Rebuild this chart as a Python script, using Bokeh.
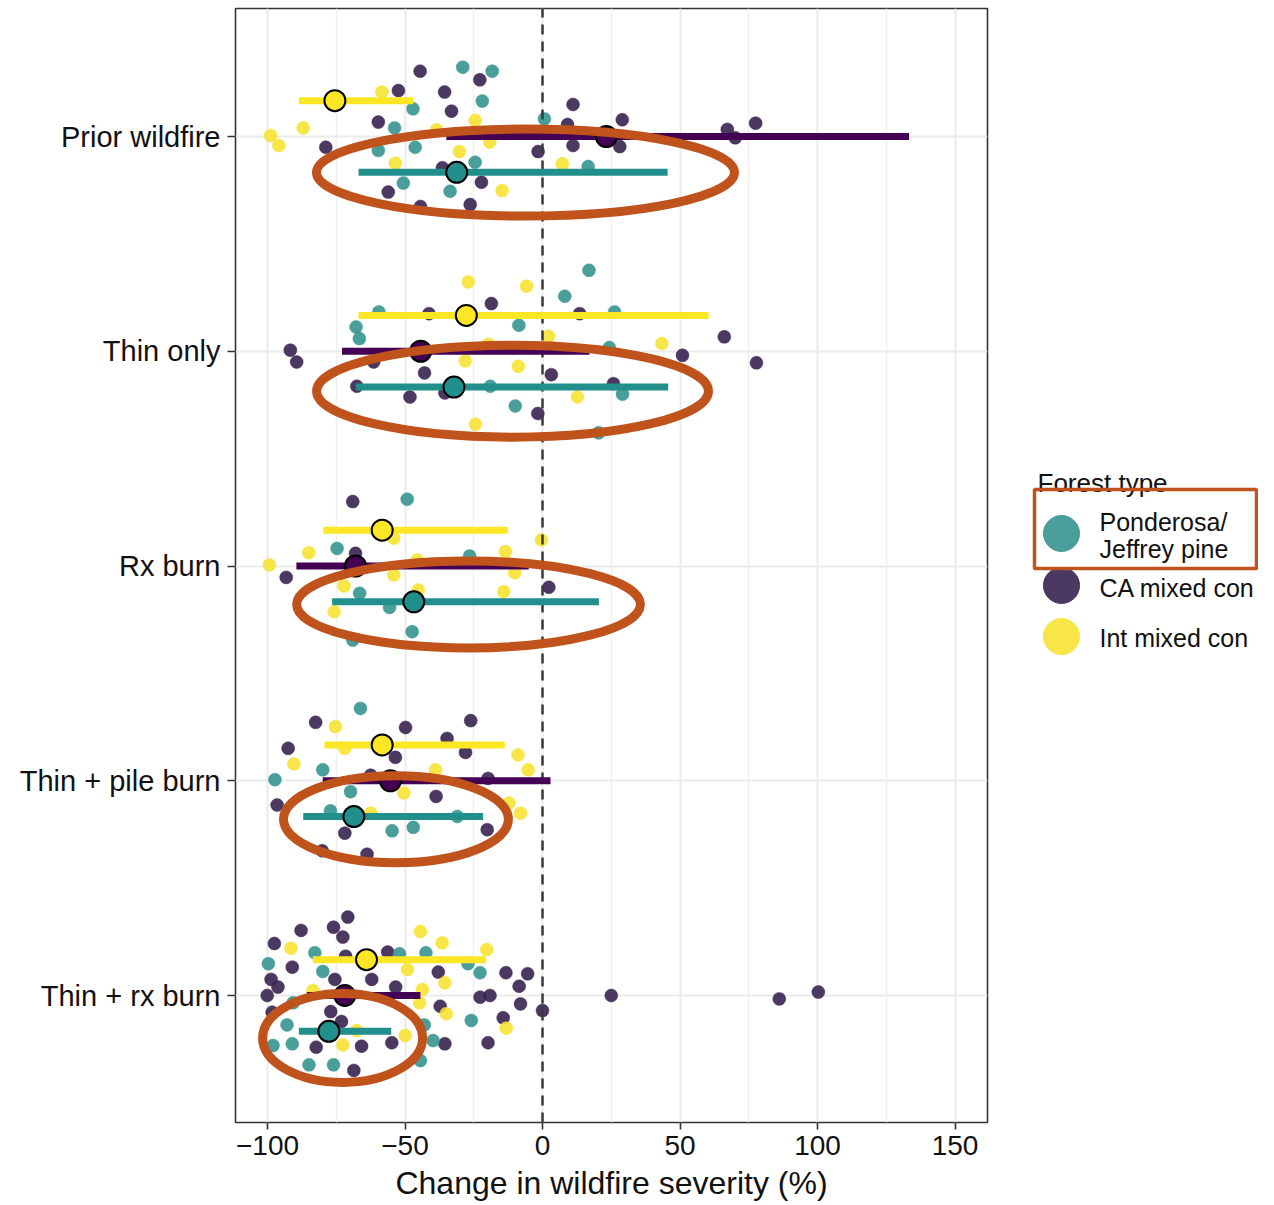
from bokeh.plotting import figure
from bokeh.layouts import row
from bokeh.models import Range1d, FixedTicker
from bokeh.core.properties import value
from bokeh.embed import file_html
from bokeh.resources import INLINE

FONT = "Liberation Sans"

categories = ["Prior wildfire", "Thin only", "Rx burn", "Thin + pile burn", "Thin + rx burn"]
cat_pos = {c: 5 - i for i, c in enumerate(categories)}

legend_title = "Forest type"
legend_labels = [["Ponderosa/", "Jeffrey pine"], ["CA mixed con"], ["Int mixed con"]]

# jittered site-level points: (category, change %, vertical jitter)
pine_points = [
    ("Prior wildfire", -29.0, 0.323), ("Prior wildfire", -18.3, 0.304), ("Prior wildfire", -21.9, 0.165),
    ("Prior wildfire", -47.1, 0.129), ("Prior wildfire", -53.8, 0.040), ("Prior wildfire", -46.3, -0.050),
    ("Prior wildfire", -59.7, -0.065), ("Prior wildfire", -24.5, -0.120), ("Prior wildfire", -50.6, -0.217),
    ("Prior wildfire", -33.6, -0.255), ("Prior wildfire", 0.7, 0.082), ("Prior wildfire", 16.6, -0.140),
    ("Thin only", 16.9, 0.377), ("Thin only", 8.1, 0.256), ("Thin only", -59.5, 0.183), ("Thin only", 26.2, 0.183),
    ("Thin only", -8.6, 0.121), ("Thin only", -67.8, 0.113), ("Thin only", -66.6, 0.059), ("Thin only", 24.3, 0.017),
    ("Thin only", -19.0, -0.163), ("Thin only", 29.1, -0.200), ("Thin only", -9.9, -0.255), ("Thin only", 20.4, -0.380),
    ("Rx burn", -49.2, 0.311), ("Rx burn", -74.7, 0.082), ("Rx burn", -26.5, 0.047), ("Rx burn", -66.5, -0.127),
    ("Rx burn", -55.6, -0.193), ("Rx burn", -47.4, -0.306), ("Rx burn", -69.0, -0.345),
    ("Thin + pile burn", -66.2, 0.337), ("Thin + pile burn", -79.9, 0.051), ("Thin + pile burn", -97.3, 0.005),
    ("Thin + pile burn", -69.8, -0.051), ("Thin + pile burn", -77.1, -0.140), ("Thin + pile burn", -31.0, -0.166),
    ("Thin + pile burn", -54.7, -0.233), ("Thin + pile burn", -47.0, -0.217),
    ("Thin + rx burn", -82.8, 0.199), ("Thin + rx burn", -99.7, 0.148), ("Thin + rx burn", -79.9, 0.112),
    ("Thin + rx burn", -52.0, 0.194), ("Thin + rx burn", -42.4, 0.199), ("Thin + rx burn", -27.1, 0.148),
    ("Thin + rx burn", -22.7, 0.106), ("Thin + rx burn", -90.7, -0.034), ("Thin + rx burn", -92.9, -0.137),
    ("Thin + rx burn", -91.0, -0.225), ("Thin + rx burn", -98.0, -0.233), ("Thin + rx burn", -43.0, -0.137),
    ("Thin + rx burn", -25.9, -0.116), ("Thin + rx burn", -39.8, -0.210), ("Thin + rx burn", -44.4, -0.303),
    ("Thin + rx burn", -84.9, -0.323), ("Thin + rx burn", -76.0, -0.323),
]

camix_points = [
    ("Prior wildfire", -44.5, 0.304), ("Prior wildfire", -22.8, 0.264), ("Prior wildfire", -52.4, 0.214),
    ("Prior wildfire", -35.6, 0.207), ("Prior wildfire", -33.1, 0.118), ("Prior wildfire", -59.7, 0.067),
    ("Prior wildfire", -78.8, -0.050), ("Prior wildfire", 11.1, 0.149), ("Prior wildfire", 9.1, 0.056),
    ("Prior wildfire", 29.0, 0.078), ("Prior wildfire", 11.1, -0.042), ("Prior wildfire", 28.1, -0.047),
    ("Prior wildfire", -1.6, -0.070), ("Prior wildfire", 67.2, 0.033), ("Prior wildfire", 77.5, 0.062),
    ("Prior wildfire", 70.1, -0.006), ("Prior wildfire", -36.4, -0.146), ("Prior wildfire", -22.2, -0.213),
    ("Prior wildfire", -56.1, -0.259), ("Prior wildfire", -26.3, -0.317), ("Prior wildfire", -44.4, -0.326),
    ("Thin only", -18.6, 0.222), ("Thin only", -41.3, 0.175), ("Thin only", 13.5, 0.175), ("Thin only", -91.7, 0.005),
    ("Thin only", -89.4, -0.050), ("Thin only", -61.4, -0.050), ("Thin only", -42.9, -0.101), ("Thin only", 66.1, 0.067),
    ("Thin only", 50.9, -0.019), ("Thin only", 77.8, -0.054), ("Thin only", 3.2, -0.109), ("Thin only", 25.8, -0.151),
    ("Thin only", -67.5, -0.163), ("Thin only", -48.2, -0.213), ("Thin only", -35.5, -0.194), ("Thin only", -1.7, -0.290),
    ("Rx burn", -69.0, 0.300), ("Rx burn", -68.0, 0.059), ("Rx burn", -93.2, -0.053), ("Rx burn", 2.3, -0.099),
    ("Thin + pile burn", -82.5, 0.272), ("Thin + pile burn", -49.8, 0.248), ("Thin + pile burn", -26.1, 0.280),
    ("Thin + pile burn", -34.7, 0.197), ("Thin + pile burn", -92.5, 0.151), ("Thin + pile burn", -53.5, 0.109),
    ("Thin + pile burn", -28.0, 0.132), ("Thin + pile burn", -62.5, 0.026), ("Thin + pile burn", -19.8, 0.011),
    ("Thin + pile burn", -38.7, -0.073), ("Thin + pile burn", -96.5, -0.113), ("Thin + pile burn", -71.9, -0.244),
    ("Thin + pile burn", -20.1, -0.228), ("Thin + pile burn", -63.8, -0.342), ("Thin + pile burn", -80.1, -0.326),
    ("Thin + rx burn", -70.8, 0.365), ("Thin + rx burn", -87.8, 0.303), ("Thin + rx burn", -76.0, 0.318),
    ("Thin + rx burn", -72.6, 0.272), ("Thin + rx burn", -97.5, 0.242), ("Thin + rx burn", -91.0, 0.132),
    ("Thin + rx burn", -98.7, 0.075), ("Thin + rx burn", -96.2, 0.039), ("Thin + rx burn", -100.1, 0.000),
    ("Thin + rx burn", -75.5, 0.075), ("Thin + rx burn", -62.1, 0.075), ("Thin + rx burn", -53.4, 0.039),
    ("Thin + rx burn", -71.6, 0.183), ("Thin + rx burn", -56.3, 0.202), ("Thin + rx burn", -37.9, 0.109),
    ("Thin + rx burn", -13.3, 0.106), ("Thin + rx burn", -5.4, 0.101), ("Thin + rx burn", -8.5, 0.043),
    ("Thin + rx burn", -22.7, -0.008), ("Thin + rx burn", -19.1, 0.000), ("Thin + rx burn", -37.2, -0.050),
    ("Thin + rx burn", -8.0, -0.039), ("Thin + rx burn", 0.0, -0.070), ("Thin + rx burn", -14.3, -0.104),
    ("Thin + rx burn", -98.3, -0.078), ("Thin + rx burn", -77.0, -0.075), ("Thin + rx burn", -73.1, -0.121),
    ("Thin + rx burn", -82.3, -0.241), ("Thin + rx burn", -65.8, -0.236), ("Thin + rx burn", -54.8, -0.220),
    ("Thin + rx burn", -35.5, -0.225), ("Thin + rx burn", -19.8, -0.220), ("Thin + rx burn", -68.6, -0.349),
    ("Thin + rx burn", 25.0, 0.000), ("Thin + rx burn", 86.1, -0.016), ("Thin + rx burn", 100.3, 0.016),
]

intmix_points = [
    ("Prior wildfire", -58.4, 0.207), ("Prior wildfire", -24.5, 0.075), ("Prior wildfire", -87.0, 0.040),
    ("Prior wildfire", -98.9, 0.005), ("Prior wildfire", -95.9, -0.042), ("Prior wildfire", -38.5, 0.031),
    ("Prior wildfire", -19.2, -0.026), ("Prior wildfire", -30.2, -0.070), ("Prior wildfire", -53.5, -0.124),
    ("Prior wildfire", 7.2, -0.127), ("Prior wildfire", -14.7, -0.252),
    ("Thin only", -27.0, 0.323), ("Thin only", -5.8, 0.303), ("Thin only", 2.2, 0.070), ("Thin only", -19.7, 0.033),
    ("Thin only", 43.4, 0.036), ("Thin only", -28.1, -0.045), ("Thin only", -8.8, -0.070), ("Thin only", 12.7, -0.213),
    ("Thin only", -24.4, -0.340),
    ("Rx burn", -54.1, 0.129), ("Rx burn", -85.0, 0.062), ("Rx burn", -99.3, 0.005), ("Rx burn", -45.6, 0.028),
    ("Rx burn", -13.5, 0.067), ("Rx burn", -0.4, 0.121), ("Rx burn", -10.1, -0.031), ("Rx burn", -54.1, -0.042),
    ("Rx burn", -72.2, -0.093), ("Rx burn", -14.1, -0.120), ("Rx burn", -45.2, -0.112), ("Rx burn", -75.8, -0.213),
    ("Thin + pile burn", -75.3, 0.252), ("Thin + pile burn", -71.9, 0.151), ("Thin + pile burn", -90.4, 0.078),
    ("Thin + pile burn", -38.9, 0.051), ("Thin + pile burn", -8.9, 0.120), ("Thin + pile burn", -5.2, 0.051),
    ("Thin + pile burn", -50.4, -0.057), ("Thin + pile burn", -12.2, -0.104), ("Thin + pile burn", -8.0, -0.151),
    ("Thin + pile burn", -62.5, -0.151),
    ("Thin + rx burn", -44.4, 0.298), ("Thin + rx burn", -36.5, 0.245), ("Thin + rx burn", -20.3, 0.214),
    ("Thin + rx burn", -91.5, 0.220), ("Thin + rx burn", -49.1, 0.121), ("Thin + rx burn", -35.5, 0.059),
    ("Thin + rx burn", -43.7, 0.028), ("Thin + rx burn", -83.5, 0.023), ("Thin + rx burn", -44.7, -0.034),
    ("Thin + rx burn", -35.0, -0.085), ("Thin + rx burn", -13.2, -0.152), ("Thin + rx burn", -49.9, -0.186),
    ("Thin + rx burn", -72.6, -0.230), ("Thin + rx burn", -67.6, -0.163),
]

# model means and 95% intervals, in category order
pine_mean = [-31.2, -32.2, -46.8, -68.6, -77.7]
pine_lo = [-66.9, -67.9, -76.5, -87.0, -88.6]
pine_hi = [45.5, 45.7, 20.5, -21.6, -55.0]

camix_mean = [23.2, -44.3, -68.0, -55.3, -71.9]
camix_lo = [-35.0, -72.9, -89.5, -79.9, -85.7]
camix_hi = [133.3, 17.1, -5.0, 2.9, -44.4]

intmix_mean = [-75.5, -27.7, -58.3, -58.3, -64.0]
intmix_lo = [-88.6, -66.9, -79.7, -79.3, -83.5]
intmix_hi = [-47.0, 60.4, -12.6, -13.7, -20.5]

x_ticks = [-100, -50, 0, 50, 100, 150]
x_minor = [-75, -25, 25, 75, 125]

# highlight ellipses around the Ponderosa/Jeffrey pine estimates
hl_x = [-6.2, -10.9, -26.9, -53.3, -72.7]
hl_dy = [-0.168, -0.186, -0.179, -0.179, -0.198]
hl_w = [152.0, 142.5, 125.0, 81.8, 58.2]
hl_h = [0.405, 0.428, 0.405, 0.405, 0.414]

# colours
pt_col = {"pine": "#369590", "camix": "#382450", "intmix": "#F7E233"}
line_col = {"pine": "#21908C", "camix": "#440154", "intmix": "#FDE725"}
dodge = {"pine": -0.167, "camix": 0.0, "intmix": 0.167}
HL = "#C0521C"
BORDER = "#333333"
GRID = "#EBEBEB"

# ---- geometry (pixels) ----
H = 1203
MAIN_W, TOTAL_W = 989, 1258
FR_L, FR_R, FR_T, FR_B = 235, 987, 8, 1122
PX_X, PX_Y = 2.75, 214.75
X0 = -111.64
Y0 = 1 - (FR_B - 995) / PX_Y

p = figure(width=MAIN_W, height=H,
           x_range=Range1d(X0, X0 + (FR_R - FR_L) / PX_X),
           y_range=Range1d(Y0, Y0 + (FR_B - FR_T) / PX_Y),
           output_backend="svg", toolbar_location=None,
           min_border_left=FR_L, min_border_right=MAIN_W - FR_R,
           min_border_top=FR_T, min_border_bottom=H - FR_B)

p.background_fill_color = "white"
p.border_fill_color = "white"
p.outline_line_color = BORDER
p.outline_line_width = 1.6

p.xaxis.ticker = FixedTicker(ticks=x_ticks, minor_ticks=x_minor)
p.xaxis.major_label_overrides = {t: (str(t).replace("-", "\u2212")) for t in x_ticks}
p.xaxis.axis_label = "Change in wildfire severity (%)"
p.yaxis.ticker = FixedTicker(ticks=[cat_pos[c] for c in categories], minor_ticks=[])
p.yaxis.major_label_overrides = {cat_pos[c]: c for c in categories}

for ax in (p.xaxis, p.yaxis):
    ax.axis_line_color = None
    ax.major_tick_line_color = BORDER
    ax.major_tick_line_width = 1.6
    ax.minor_tick_line_color = None
    ax.major_tick_in = 0
    ax.major_label_text_font = FONT
    ax.major_label_text_color = "#111111"
    ax.axis_label_text_font = FONT
    ax.axis_label_text_font_style = "normal"
    ax.axis_label_text_color = "#111111"

p.xaxis.major_tick_out = 7
p.xaxis.major_label_standoff = 6
p.xaxis.major_label_text_font_size = "28px"
p.xaxis.axis_label_standoff = 7
p.xaxis.axis_label_text_font_size = "32px"
p.yaxis.major_tick_out = 8
p.yaxis.major_label_standoff = 7
p.yaxis.major_label_text_font_size = "29px"

p.xgrid.grid_line_color = GRID
p.xgrid.grid_line_width = 2
p.xgrid.minor_grid_line_color = "#F0F0F0"
p.xgrid.minor_grid_line_width = 1.6
p.ygrid.grid_line_color = GRID
p.ygrid.grid_line_width = 2


def pts(lst):
    xs = [v for _, v, _ in lst]
    ys = [cat_pos[c] + j for c, _, j in lst]
    return xs, ys


# jittered points
for key, lst in (("camix", camix_points), ("pine", pine_points), ("intmix", intmix_points)):
    xs, ys = pts(lst)
    p.scatter(xs, ys, size=13, fill_color=pt_col[key], line_color=pt_col[key],
              fill_alpha=0.9, line_alpha=0.9, line_width=0.5)

# reference line at zero
p.segment(x0=[0], y0=[p.y_range.start], x1=[0], y1=[p.y_range.end],
          line_color="#3A3A3A", line_width=2.5, line_dash="10 7")

# intervals and means
for key, m, lo, hi in (("intmix", intmix_mean, intmix_lo, intmix_hi),
                       ("camix", camix_mean, camix_lo, camix_hi),
                       ("pine", pine_mean, pine_lo, pine_hi)):
    ys = [cat_pos[c] + dodge[key] for c in categories]
    p.segment(x0=lo, y0=ys, x1=hi, y1=ys, line_color=line_col[key], line_width=7)
    p.scatter(m, ys, size=21, fill_color=line_col[key], line_color="black", line_width=2)

# highlight ellipses
p.ellipse(x=hl_x, y=[cat_pos[c] + d for c, d in zip(categories, hl_dy)],
          width=hl_w, height=hl_h, fill_color=None, line_color=HL, line_width=9)

# ---- legend panel (ranges in canvas pixels) ----
lf = figure(width=TOTAL_W - MAIN_W, height=H,
            x_range=Range1d(MAIN_W, TOTAL_W), y_range=Range1d(FR_B, FR_T),
            output_backend="svg", toolbar_location=None,
            x_axis_location=None, y_axis_location=None,
            min_border_left=0, min_border_right=0,
            min_border_top=FR_T, min_border_bottom=H - FR_B)
lf.grid.visible = False
lf.outline_line_color = None
lf.background_fill_color = "white"
lf.border_fill_color = "white"

leg_keys = ["pine", "camix", "intmix"]
lf.scatter([1061] * 3, [533, 585, 636], size=36, fill_color=[pt_col[k] for k in leg_keys],
           line_color=[pt_col[k] for k in leg_keys], fill_alpha=0.9, line_alpha=0.9)
lf.text(x=[1037], y=[482], text=[legend_title], text_font=value(FONT), text_font_size="26px",
        text_baseline="middle", text_align="left", text_color="#111111")
lf.text(x=[1099] * 4, y=[521, 548, 587, 637],
        text=[legend_labels[0][0], legend_labels[0][1], legend_labels[1][0], legend_labels[2][0]],
        text_font=value(FONT), text_font_size="25px", text_baseline="middle",
        text_align="left", text_color="#111111")
lf.quad(left=[1034], right=[1256], top=[489], bottom=[568], fill_color=None,
        line_color=HL, line_width=3.5)

layout = row(p, lf)
open("out.html", "w").write(file_html(layout, INLINE))
